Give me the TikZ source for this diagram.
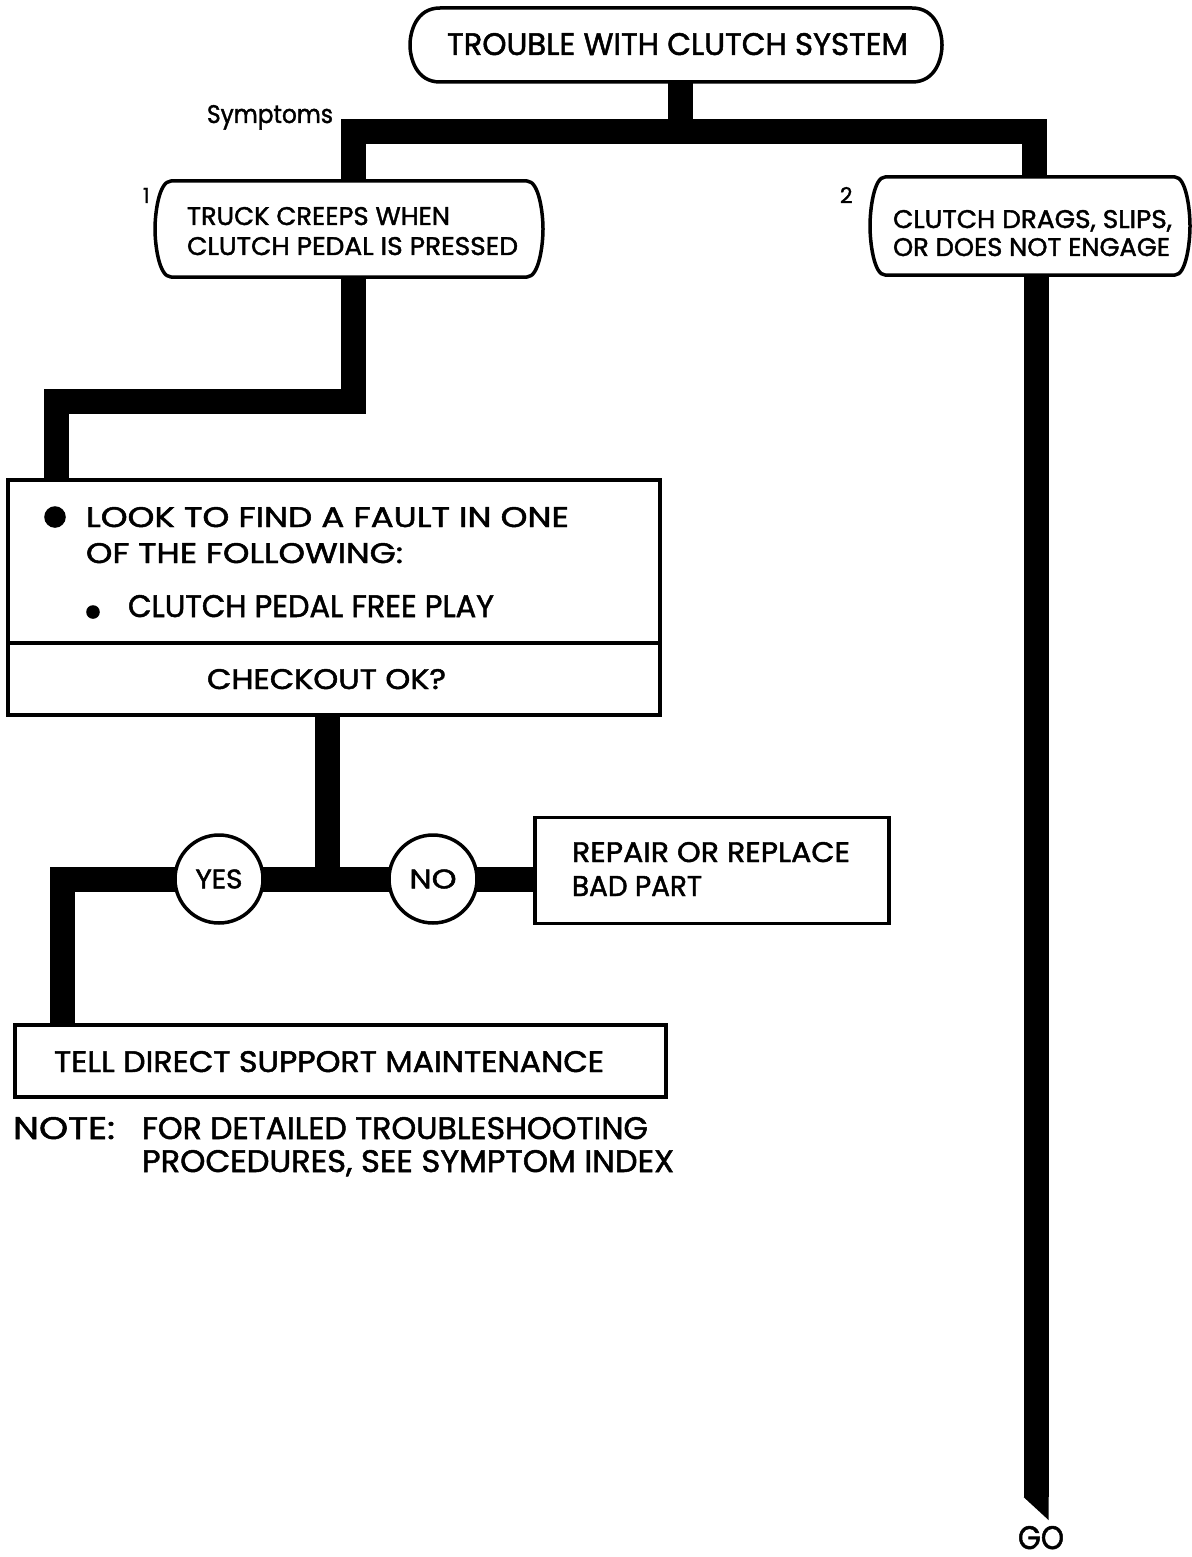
\documentclass[tikz,border=0pt]{standalone}
\usepackage{fontspec}
\setmainfont{Poppins}[FakeBold=1.6]
\usepackage{graphicx}
\newlength\px \setlength\px{0.5pt}
\newcommand\fl[3]{\resizebox{#1\px}{#2\px}{#3}}
\newcommand\flh[2]{\resizebox{!}{#1\px}{#2}}
\newcommand\pillbox[4]{%
 \draw[outline] ([xshift=#2]#1.north west) -- ([xshift=-#2]#1.north east)
  .. controls ([xshift=-#3]#1.north east) and ([yshift=-#4]#1.north east) .. (#1.east)
  .. controls ([yshift=#4]#1.south east) and ([xshift=-#3]#1.south east) .. ([xshift=-#2]#1.south east)
  -- ([xshift=#2]#1.south west)
  .. controls ([xshift=#3]#1.south west) and ([yshift=#4]#1.south west) .. (#1.west)
  .. controls ([yshift=-#4]#1.north west) and ([xshift=#3]#1.north west) .. ([xshift=#2]#1.north west) -- cycle;}
\tikzset{
 outline/.style={line width=1.75pt, line join=round},
 conn/.style={line width=12.5pt, line cap=butt, line join=miter},
 txt/.style={inner sep=0pt, outer sep=0pt, anchor=base west},
 ctxt/.style={inner sep=0pt, outer sep=0pt, anchor=base},
 frame/.style={draw, line width=1.75pt, inner sep=0pt, outer sep=0pt},
 holder/.style={inner sep=0pt, outer sep=0pt},
 ring/.style={circle, draw, line width=1.75pt, minimum size=44pt, inner sep=0pt, outer sep=0pt},
}
\begin{document}
\begin{tikzpicture}[x=0.5pt,y=-0.5pt]
\useasboundingbox (0,0) rectangle (1191,1557);
\fill[white] (0,0) rectangle (1191,1557);

% boxes
\node[holder, minimum width=266pt, minimum height=37pt] (top) at (676,45) {};
\node[holder, minimum width=194pt, minimum height=48pt] (b1) at (349,229) {};
\node[holder, minimum width=160pt, minimum height=49pt] (b2) at (1030,226) {};
\node[frame, minimum width=326pt, minimum height=117.5pt] (b3) at (334,597.5) {};
\node[frame, minimum width=177pt, minimum height=53pt] (rep) at (712,870.5) {};
\node[frame, minimum width=325.5pt, minimum height=36pt] (tell) at (340.5,1061) {};
\node[ring] (yes) at (219,879) {\fl{47}{19}{YES}};
\node[ring] (no) at (433,879) {\fl{47}{19}{NO}};

\pillbox{top}{15pt}{3pt}{12pt}
\pillbox{b1}{8pt}{2pt}{16pt}
\pillbox{b2}{7.5pt}{2pt}{16pt}

\coordinate (dv) at (0,643);
\draw[outline] (b3.west |- dv) -- (b3.east |- dv);

% connectors
\coordinate (jtop) at (680,131.5);
\coordinate (jL) at (353,131.5);
\coordinate (jR) at (1034,131.5);
\draw[conn] (jtop |- top.south) -- (jtop);
\draw[conn] (jL |- b1.north) -- (jL) -- (jR) -- (jR |- b2.north);

\coordinate (k1) at (353,401.5);
\coordinate (k2) at (56,401.5);
\draw[conn] (k1 |- b1.south) -- (k1) -- (k2) -- (k2 |- b3.north);

\coordinate (j3) at (327,879);
\draw[conn] (j3 |- b3.south) -- ([yshift=-6pt]j3);
\draw[conn] (yes.east) -- (no.west);
\draw[conn] (no.east) -- (no.east -| rep.west);
\coordinate (k3) at (62,879);
\draw[conn] (yes.west) -- (k3) -- (k3 |- tell.north);

\coordinate (gotip) at (1036,1497);
\draw[conn] (gotip |- b2.south) -- (gotip);
\fill ([xshift=-6.25pt]gotip) -- ([xshift=6.25pt]gotip) -- ([xshift=6.25pt,yshift=-11.5pt]gotip) -- cycle;

% bullets
\fill (55,517) circle[radius=5.4pt];
\fill (93,612) circle[radius=3.4pt];

% texts
\node[txt] (ttitle) at (447,55) {\fl{461}{22}{TROUBLE WITH CLUTCH SYSTEM}};
\node[txt] (tsymp) at (207,123) {\fl{126}{18}{Symptoms}};
\node[txt] (tone) at (143,203) {\flh{15}{1}};
\node[txt] (tb1a) at (187,225) {\fl{263}{18}{TRUCK CREEPS WHEN}};
\node[txt] (tb1b) at (187,255) {\fl{331}{18}{CLUTCH PEDAL IS PRESSED}};
\node[txt] (ttwo) at (840,203) {\flh{16}{2}};
\node[txt] (tb2a) at (893,228) {\fl{279}{18}{CLUTCH DRAGS, SLIPS,}};
\node[txt] (tb2b) at (893,256) {\fl{277}{18}{OR DOES NOT ENGAGE}};
\node[txt] (tb3a) at (86,527) {\fl{483}{20}{LOOK TO FIND A FAULT IN ONE}};
\node[txt] (tb3b) at (86,563) {\fl{317}{20}{OF THE FOLLOWING:}};
\node[txt] (tb3c) at (128,617) {\fl{366}{22}{CLUTCH PEDAL FREE PLAY}};
\node[txt] (tchk) at (207,689) {\fl{239}{20}{CHECKOUT OK?}};
\node[txt] (trep1) at (572,862) {\fl{278}{20}{REPAIR OR REPLACE}};
\node[txt] (trep2) at (572,896) {\fl{130}{20}{BAD PART}};
\node[txt] (ttell) at (54,1072) {\fl{550}{21}{TELL DIRECT SUPPORT MAINTENANCE}};
\node[txt] (tnote) at (13,1139) {\fl{102}{22}{NOTE:}};
\node[txt] (tnote1) at (142,1139) {\fl{506}{22}{FOR DETAILED TROUBLESHOOTING}};
\node[txt] (tnote2) at (142,1172) {\fl{532}{22}{PROCEDURES, SEE SYMPTOM INDEX}};
\node[ctxt] (tgo) at (1041,1549) {\fl{46}{23}{GO}};
\end{tikzpicture}
\end{document}
